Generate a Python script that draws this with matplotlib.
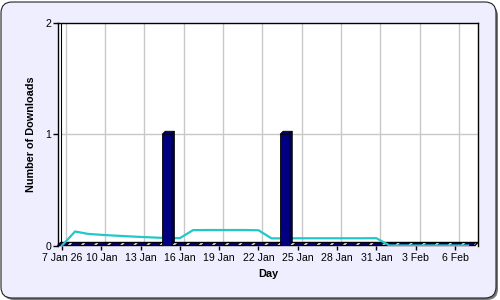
import matplotlib
matplotlib.use("Agg")
import matplotlib.pyplot as plt
from matplotlib.patches import Polygon, FancyBboxPatch
from matplotlib.transforms import IdentityTransform

plt.rcParams['font.family'] = ['Liberation Sans', 'DejaVu Sans']

# daily data, 7 Jan 26 .. 7 Feb
days = list(range(32))
downloads = [0, 0, 0, 0, 0, 0, 0, 0, 1, 0, 0, 0, 0, 0, 0, 0,
             0, 1, 0, 0, 0, 0, 0, 0, 0, 0, 0, 0, 0, 0, 0, 0]
average = [0.0, 0.126, 0.104, 0.096, 0.089, 0.083, 0.077, 0.072,
           0.067, 0.066, 0.138, 0.139, 0.139, 0.139, 0.139, 0.137,
           0.064, 0.064, 0.065, 0.065, 0.065, 0.065, 0.065, 0.065,
           0.066, 0.0, 0.0, 0.0, 0.0, 0.0, 0.0, 0.0]
tick_days = [0, 3, 6, 9, 12, 15, 18, 21, 24, 27, 30]
tick_labels = ["7 Jan 26", "10 Jan", "13 Jan", "16 Jan", "19 Jan", "22 Jan",
               "25 Jan", "28 Jan", "31 Jan", "3 Feb", "6 Feb"]

W, H = 500, 300
fig = plt.figure(figsize=(5, 3), dpi=100)
fig.patch.set_facecolor('white')

# rounded frame with shadow
shadow = FancyBboxPatch((3, 0), 495, 295, boxstyle="round,pad=0,rounding_size=11",
                        transform=IdentityTransform(), facecolor='#7a7a7a',
                        edgecolor='none', zorder=-2)
frame = FancyBboxPatch((1, 2), 495, 296, boxstyle="round,pad=0,rounding_size=11",
                       transform=IdentityTransform(), facecolor='#EEEEFF',
                       edgecolor='#222222', linewidth=0.8, zorder=-1)
fig.patches.extend([shadow, frame])

left, right, top, bottom = 58, 478, 23, 245.5
ax = fig.add_axes([left / W, (H - bottom) / H, (right - left) / W, (bottom - top) / H])
ax.set_zorder(2)
ax.set_facecolor('white')
xmin, xmax = -0.305, 31.76
ax.set_xlim(xmin, xmax)
ax.set_ylim(0, 2)

depth = 3
dx = depth * (xmax - xmin) / (right - left)
dy = depth * 2 / (bottom - top)

# back-wall grid
ax.vlines([t + dx * 1.3 for t in tick_days], dy, 2, color='#c8c8c8', lw=1, zorder=0.5)
ax.hlines([1], xmin + dx, xmax, color='#c8c8c8', lw=1, zorder=0.5)
# left wall and floor
ax.plot([xmin + dx, xmin + dx], [dy, 2], color='black', lw=0.8, zorder=1)
ax.add_patch(Polygon([(xmin, 0), (xmax - dx, 0), (xmax, dy), (xmin + dx, dy)],
                     closed=True, facecolor='white', edgecolor='black', lw=1,
                     zorder=1, clip_on=False))

# 3D bars
w = 0.7
for d, v in zip(days, downloads):
    z = 4 if v > 0 else 2
    x0, x1 = d - w / 2, d + w / 2
    ax.add_patch(Polygon([(x0, v), (x1, v), (x1 + dx, v + dy), (x0 + dx, v + dy)],
                         closed=True, facecolor='#000070', edgecolor='black',
                         lw=0.6, zorder=z, clip_on=False))
    if v > 0:
        ax.add_patch(Polygon([(x1, 0), (x1 + dx, dy), (x1 + dx, v + dy), (x1, v)],
                             closed=True, facecolor='#000050', edgecolor='black',
                             lw=0.6, zorder=z))
        ax.bar(d, v, width=w, color='#000080', edgecolor='black', lw=0.6, zorder=z)

ax.plot(days, average, color='#22C8C8', lw=1.6, zorder=3, solid_joinstyle='round')

for s in ['top', 'right', 'left']:
    ax.spines[s].set_linewidth(1)
ax.spines['bottom'].set_visible(False)

ax.set_xticks(tick_days)
ax.set_xticklabels(tick_labels)
ax.set_yticks([0, 1, 2])
ax.tick_params(axis='x', length=3, width=1, pad=2.5, labelsize=7.6)
ax.tick_params(axis='y', length=3.5, width=1, pad=1.5, labelsize=7.6)

ax.set_xlabel("Day", fontsize=7.8, fontweight='bold')
ax.set_ylabel("Number of Downloads", fontsize=7.8, fontweight='bold')
ax.xaxis.set_label_coords(0.5, -0.106)
ax.yaxis.set_label_coords(-0.052, 0.5)

fig.savefig("out.png", dpi=100)
